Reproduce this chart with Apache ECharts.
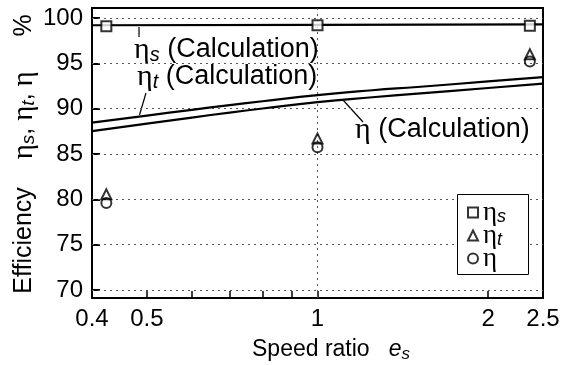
<!DOCTYPE html>
<html>
<head>
<meta charset="utf-8">
<script src="https://cdn.jsdelivr.net/npm/echarts@6/dist/echarts.min.js"></script>
<style>
html,body{margin:0;padding:0;background:#fff;}
#c{width:566px;height:365px;}
</style>
</head>
<body>
<div id="c"></div>
<script>
// ---- data ----
var xCalc = [0.4, 0.5, 0.6, 0.7, 0.8, 1.0, 1.25, 1.5, 2.0, 2.5];
var etaTCalc = [88.46, 89.24, 89.87, 90.39, 90.82, 91.5, 92.03, 92.39, 93.0, 93.47];
var etaCalc = [87.52, 88.35, 89.02, 89.57, 90.02, 90.72, 91.26, 91.66, 92.28, 92.76];
var xSCalc = [0.4, 1.0, 2.5];
var etaSCalc = [99.2, 99.25, 99.3];

var xMeas = [0.424, 1.0, 2.37];
var etaSMeas = [99.1, 99.2, 99.15];
var etaTMeas = [80.55, 86.7, 96.0];
var etaMeas = [79.6, 85.75, 95.2];

var yTicks = [70, 75, 80, 85, 90, 95, 100];
var xLabelVals = [0.4, 0.5, 1, 2, 2.5];
var xLabelText = ['0.4', '0.5', '1', '2', '2.5'];
var xMinorTicks = [0.5, 0.6, 0.7, 0.8, 0.9, 1, 2];
var xGridVals = [1];

var seriesNames = ['ηs', 'ηt', 'η'];
var legendRows = [211, 234, 257];   // centre of each legend row (px)

function pairs(xs, ys) { return xs.map(function (x, i) { return [x, ys[i]]; }); }
function lg(v) { return Math.log10(v); }

var FONT = 'Liberation Sans';
var SERIF = 'Liberation Serif';
var richY = {
  t: { fontFamily: FONT, fontSize: 25, color: '#000' },
  g: { fontFamily: SERIF, fontSize: 29, color: '#000' },
  sub: { fontFamily: FONT, fontSize: 19, fontStyle: 'italic', color: '#000', padding: [10, 0, 0, 0] }
};
var richA = {
  t: { fontFamily: FONT, fontSize: 27, color: '#000' },
  g: { fontFamily: SERIF, fontSize: 30, color: '#000' },
  sub: { fontFamily: FONT, fontSize: 20, fontStyle: 'italic', color: '#000', padding: [10, 0, 0, 0] }
};
var richX = {
  t: { fontFamily: FONT, fontSize: 23, color: '#000' },
  it: { fontFamily: FONT, fontSize: 23, fontStyle: 'italic', color: '#000' },
  sub: { fontFamily: FONT, fontSize: 17, fontStyle: 'italic', color: '#000', padding: [9, 0, 0, 0] }
};
var richL = {
  g: { fontFamily: SERIF, fontSize: 27, color: '#000' },
  sub: { fontFamily: FONT, fontSize: 18, fontStyle: 'italic', color: '#000', padding: [8, 0, 0, 0] }
};

function legendFmt(n) {
  if (n === 'ηs') return '{g|η}{sub|s}';
  if (n === 'ηt') return '{g|η}{sub|t}';
  return '{g|η}';
}

var chart = echarts.init(document.getElementById('c'), null, { renderer: 'canvas' });
var dotted = { color: '#555', width: 1, type: [2, 4] };

var legends = seriesNames.map(function (n, i) {
  return {
    data: [n], orient: 'vertical', left: 467, top: legendRows[i] - 12,
    padding: 0, itemWidth: 10, itemHeight: 10, itemTextGap: 7, z: 12,
    selectedMode: false,
    textStyle: { rich: richL },
    formatter: legendFmt
  };
});

var option = {
  animation: false,
  backgroundColor: '#fff',
  grid: { left: 92, right: 23, top: 8, bottom: 67, show: true, borderColor: '#000', borderWidth: 2, backgroundColor: 'transparent', outerBoundsMode: 'none' },
  xAxis: [
    { type: 'log', logBase: 10, min: 0.4, max: 2.5, position: 'bottom',
      axisLine: { show: true, onZero: false, lineStyle: { color: '#000', width: 2 } },
      axisTick: { show: false }, axisLabel: { show: false }, splitLine: { show: false } },
    { type: 'value', min: lg(0.4), max: lg(2.5), position: 'bottom',
      axisLine: { show: false, onZero: false },
      axisTick: { show: true, inside: true, length: 7, lineStyle: { color: '#000', width: 1.5 },
                  customValues: xMinorTicks.map(lg) },
      axisLabel: { show: true, margin: 9, fontSize: 24, fontFamily: FONT, color: '#000',
                   customValues: xLabelVals.map(lg),
                   formatter: function (v) {
                     for (var i = 0; i < xLabelVals.length; i++) { if (Math.abs(lg(xLabelVals[i]) - v) < 1e-6) return xLabelText[i]; }
                     return '';
                   } },
      splitLine: { show: false } }
  ],
  yAxis: [
    { type: 'value', min: 69.118, max: 101.103,
      axisLine: { show: true, onZero: false, lineStyle: { color: '#000', width: 2 } },
      axisTick: { show: true, inside: true, length: 8, lineStyle: { color: '#000', width: 2 }, customValues: yTicks },
      axisLabel: { show: true, margin: 9, fontSize: 24, fontFamily: FONT, color: '#000', customValues: yTicks },
      splitLine: { show: false } }
  ],
  legend: legends,
  series: [
    { type: 'line', name: 'calcS', xAxisIndex: 0, yAxisIndex: 0, data: pairs(xSCalc, etaSCalc), showSymbol: false, silent: true,
      lineStyle: { color: '#000', width: 2.2 }, z: 3,
      markLine: { silent: true, symbol: 'none', label: { show: false }, lineStyle: dotted, z: 1,
        data: yTicks.map(function (v) { return { yAxis: v }; }).concat(xGridVals.map(function (v) { return { xAxis: v }; })) } },
    { type: 'line', name: 'calcT', xAxisIndex: 0, yAxisIndex: 0, data: pairs(xCalc, etaTCalc), showSymbol: false, smooth: true, silent: true,
      lineStyle: { color: '#000', width: 2.2 }, z: 3 },
    { type: 'line', name: 'calc', xAxisIndex: 0, yAxisIndex: 0, data: pairs(xCalc, etaCalc), showSymbol: false, smooth: true, silent: true,
      lineStyle: { color: '#000', width: 2.2 }, z: 3 },
    { type: 'scatter', name: 'η', xAxisIndex: 0, yAxisIndex: 0, data: pairs(xMeas, etaMeas), symbol: 'circle', symbolSize: 10,
      itemStyle: { color: 'transparent', borderColor: '#000', borderWidth: 2 }, z: 5 },
    { type: 'scatter', name: 'ηt', xAxisIndex: 0, yAxisIndex: 0, data: pairs(xMeas, etaTMeas), symbol: 'triangle', symbolSize: 10,
      itemStyle: { color: 'transparent', borderColor: '#000', borderWidth: 2 }, z: 5 },
    { type: 'scatter', name: 'ηs', xAxisIndex: 0, yAxisIndex: 0, data: pairs(xMeas, etaSMeas), symbol: 'rect', symbolSize: 10,
      itemStyle: { color: '#fff', borderColor: '#000', borderWidth: 2 }, z: 6 }
  ],
  graphic: [
    { type: 'rect', z: 10, shape: { x: 457.5, y: 194.5, width: 71, height: 80 }, style: { fill: '#fff', stroke: '#000', lineWidth: 1 } },
    { type: 'text', x: 24, y: 154, rotation: Math.PI / 2,
      style: { text: '{t|Efficiency    }{g|η}{sub|s}{t|, }{g|η}{sub|t}{t|, }{g|η}{t|     %}', rich: richY, align: 'center', verticalAlign: 'middle' } },
    { type: 'text', x: 252, y: 350,
      style: { text: '{t|Speed ratio   }{it|e}{sub|s}', rich: richX, align: 'left', verticalAlign: 'middle' } },
    { type: 'text', x: 134, y: 50,
      style: { text: '{g|η}{sub|s}{t| (Calculation)}', rich: richA, align: 'left', verticalAlign: 'middle' } },
    { type: 'text', x: 137, y: 77,
      style: { text: '{g|η}{sub|t}{t| (Calculation)}', rich: richA, align: 'left', verticalAlign: 'middle' } },
    { type: 'text', x: 355, y: 130,
      style: { text: '{g|η}{t| (Calculation)}', rich: richA, align: 'left', verticalAlign: 'middle' } },
    { type: 'line', shape: { x1: 139, y1: 27, x2: 139, y2: 37 }, style: { stroke: '#000', lineWidth: 1.2 } },
    { type: 'line', shape: { x1: 146, y1: 93, x2: 139.5, y2: 115 }, style: { stroke: '#000', lineWidth: 1.2 } },
    { type: 'line', shape: { x1: 343, y1: 100, x2: 363, y2: 122 }, style: { stroke: '#000', lineWidth: 1.2 } }
  ]
};
chart.setOption(option);
</script>
</body>
</html>
